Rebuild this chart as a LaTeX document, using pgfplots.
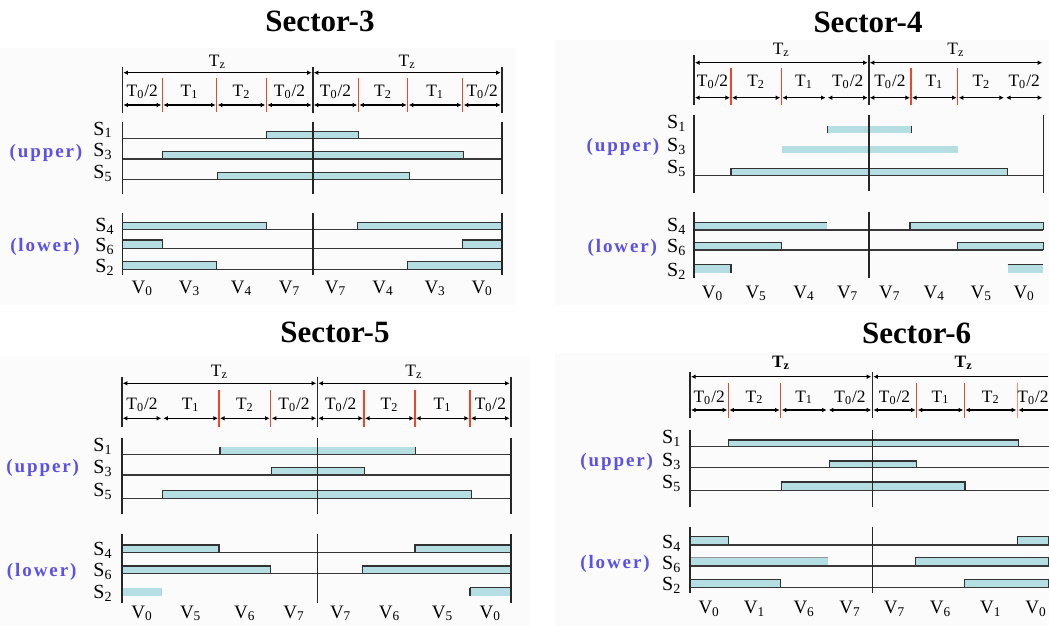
\documentclass[border=0pt]{standalone}
\usepackage{pgfplots}
\pgfplotsset{compat=1.18}
\usetikzlibrary{arrows.meta}
\usepackage{fontspec}
\setmainfont{Liberation Serif}
\newfontfamily\upl[LetterSpace=10]{Liberation Serif}
\definecolor{barc}{RGB}{180,222,226}
\definecolor{bard}{RGB}{50,50,50}
\definecolor{redl}{RGB}{240,70,40}
\definecolor{purp}{RGB}{90,80,235}
\definecolor{bgc}{RGB}{251,251,251}
\newcommand\ttl{\fontsize{15.5}{17}\selectfont\bfseries}
\newcommand\lab{\fontsize{8.7}{9}\selectfont}
\newcommand\vlab{\fontsize{9.5}{10}\selectfont}
\newcommand\slab{\fontsize{10}{11}\selectfont}
\newcommand\ul{\upl\fontsize{9.5}{10}\selectfont\bfseries\color{purp}}
\newcommand\Th{T\textsubscript{0}/2}
\newcommand\Tz{T\textsubscript{z}}
\newcommand\Ta{T\textsubscript{1}}
\newcommand\Tb{T\textsubscript{2}}
\pgfplotsset{
  ln/.style={black!78, line width=0.6pt},
  vl/.style={black!85, line width=0.8pt},
  rl/.style={color=redl, line width=0.75pt},
  bx/.style={fill=barc, draw=bard, line width=0.7pt},
  bn/.style={fill=barc, draw=none},
  ed/.style={draw=bard, line width=0.7pt},
  arr/.style={black, line width=0.6pt, >={Latex[length=2.3pt,width=2.3pt]}, shorten <=0.5pt, shorten >=0.5pt},
}
% horizontal line: [opts]{x1}{x2}{y}
\newcommand\HL[4][]{\addplot[ln,#1] coordinates {(#2,#4) (#3,#4)};}
% vertical line: [opts]{x}{y1}{y2}
\newcommand\VL[4][]{\addplot[vl,#1] coordinates {(#2,#3) (#2,#4)};}
\newcommand\RL[3]{\addplot[rl] coordinates {(#1,#2) (#1,#3)};}
% bar: [style]{x1}{x2}{ytop}{ybase}
\newcommand\BX[5][bx]{\addplot[#1] coordinates {(#2,#5) (#2,#4) (#3,#4) (#3,#5)};}
\newcommand\BN[4]{\addplot[bn] coordinates {(#1,#4) (#1,#3) (#2,#3) (#2,#4)};}
% arrow: [tips]{x1}{x2}{y}
\newcommand\AR[4][<->]{\addplot[arr,#1] coordinates {(#2,#4) (#3,#4)};}
\newcommand\TX[4][]{\node[#1] at (axis cs:#2,#3) {#4};}
\newcommand\SL[3]{\node[font=\slab,anchor=base east,inner sep=0pt] at (axis cs:#1,#2) {S\textsubscript{#3}};}
\newcommand\VV[3]{\node[font=\vlab] at (axis cs:#1,#2) {V\textsubscript{#3}};}
\begin{document}
\begin{tikzpicture}
\begin{axis}[
  width=524.5pt, height=313pt, scale only axis,
  xmin=0, xmax=1049, ymin=0, ymax=626, y dir=reverse,
  axis lines=none, clip=true,
]
% page and panel backgrounds
\addplot[fill=white,draw=none] coordinates {(0,0) (1049,0) (1049,626) (0,626)};
\addplot[fill=bgc,draw=none] coordinates {(0,48) (516,48) (516,305) (0,305)};
\addplot[fill=bgc,draw=none] coordinates {(555,40) (1049,40) (1049,305) (555,305)};
\addplot[fill=bgc,draw=none] coordinates {(0,357) (530,357) (530,626) (0,626)};
\addplot[fill=bgc,draw=none] coordinates {(555,353) (1049,353) (1049,626) (555,626)};

%================ Sector-3 ================
\TX[font=\ttl]{320}{21}{Sector-3}
\TX[font=\lab]{217.5}{62}{\Tz}
\TX[font=\lab]{407.2}{62}{\Tz}
\AR{122.3}{312.7}{72.7}
\AR{312.7}{501.7}{72.7}
\AR{122.3}{162.3}{105} \AR{162.3}{216.7}{105} \AR{216.7}{266.3}{105} \AR{266.3}{312.7}{105}
\AR{312.7}{358.3}{105} \AR{358.3}{407.7}{105} \AR{407.7}{462.7}{105} \AR{462.7}{501.7}{105}
\TX[font=\lab]{142.3}{92}{\Th} \TX[font=\lab]{189.5}{92}{\Ta} \TX[font=\lab]{241.5}{92}{\Tb} \TX[font=\lab]{289.5}{92}{\Th}
\TX[font=\lab]{335.5}{92}{\Th} \TX[font=\lab]{383}{92}{\Tb} \TX[font=\lab]{435.2}{92}{\Ta} \TX[font=\lab]{482.2}{92}{\Th}
\VL{122.3}{67}{113} \VL{312.7}{67}{113} \VL{501.7}{67}{113}
\RL{162.3}{78}{112} \RL{216.7}{78}{112} \RL{266.3}{78}{112}
\RL{358.3}{78}{112} \RL{407.7}{78}{112} \RL{462.7}{78}{112}
% upper
\BX{266.7}{358.3}{131.7}{138.3}
\BX{162.3}{463.3}{151.7}{158.7}
\BX{217.3}{409.3}{172.3}{179.3}
\HL{122.3}{501.7}{138.3}
\HL[line width=0.9pt]{122.3}{501.7}{158.7}
\HL{122.3}{501.7}{179.3}
\VL{122.3}{122}{194} \VL{312.7}{122}{194} \VL{501.7}{122}{194}
\SL{113}{135}{1} \SL{113}{156.7}{3} \SL{113}{178.3}{5}
\TX[font=\ul]{46}{152.7}{(upper)}
% lower
\BX{122.3}{266.3}{222.7}{229.3} \BX{357.3}{501.7}{222.7}{229.3}
\BX{122.3}{162.3}{240}{248.3} \BX{462.7}{501.7}{240}{248.3}
\BX{122.3}{216.7}{261.7}{269.3} \BX{407.7}{501.7}{261.7}{269.3}
\HL{122.3}{501.7}{229.3} \HL{122.3}{501.7}{248.3} \HL{122.3}{501.7}{269.3}
\VL{122.3}{213}{275} \VL{312.7}{213}{275} \VL{501.7}{213}{275}
\SL{115}{231.7}{4} \SL{115}{251.7}{6} \SL{115}{272.7}{2}
\TX[font=\ul]{45}{246.7}{(lower)}
\VV{142.3}{288.3}{0} \VV{189.5}{288.3}{3} \VV{241.5}{288.3}{4} \VV{289.5}{288.3}{7}
\VV{335.5}{288.3}{7} \VV{383}{288.3}{4} \VV{435.2}{288.3}{3} \VV{482.2}{288.3}{0}

%================ Sector-4 ================
\TX[font=\ttl]{868}{22}{Sector-4}
\TX[font=\lab]{781.3}{50}{\Tz}
\TX[font=\lab]{956}{50}{\Tz}
\AR{694}{868.7}{62.7}
\AR{868.7}{1043.3}{62.7}
\AR{694}{731}{97.7} \AR{731}{781.3}{97.7} \AR{781.3}{826.7}{97.7} \AR{826.7}{868.7}{97.7}
\AR{868.7}{911}{97.7} \AR{911}{957.7}{97.7} \AR{957.7}{1005}{97.7} \AR{1005}{1043.3}{97.7}
\TX[font=\lab]{712.5}{81.7}{\Th} \TX[font=\lab]{756.2}{81.7}{\Tb} \TX[font=\lab]{804}{81.7}{\Ta} \TX[font=\lab]{847.7}{81.7}{\Th}
\TX[font=\lab]{889.9}{81.7}{\Th} \TX[font=\lab]{934.4}{81.7}{\Ta} \TX[font=\lab]{981.4}{81.7}{\Tb} \TX[font=\lab]{1024.2}{81.7}{\Th}
\VL{694}{55}{105} \VL{868.7}{55}{105}
\RL{731}{68}{105} \RL{781.3}{68}{105} \RL{911}{68}{105} \RL{957.7}{68}{105}
% upper
\BN{827.3}{911.7}{125.7}{133.3}
\VL[ed]{827.3}{125.7}{133.3} \VL[ed]{911.7}{125.7}{133.3}
\BN{782.3}{958.3}{145.7}{153.3}
\BX{731}{1007.7}{168.3}{175.7}
\HL{694}{1043.3}{175.7}
\VL{694}{115}{193.3} \VL{868.7}{115}{191} \VL{1043.3}{115}{193.3}
\SL{686.7}{128.3}{1} \SL{686.7}{151.7}{3} \SL{686.7}{173.3}{5}
\TX[font=\ul]{623}{146.7}{(upper)}
% lower
\BN{694}{826.7}{222.7}{230} \HL[ed]{694}{826.7}{222.7}
\BX{910}{1043.3}{222.7}{230}
\BX{694}{781.3}{242.7}{250} \BX{957.7}{1043.3}{242.7}{250}
\BN{694}{731}{264.3}{272.7} \HL[ed]{694}{731}{264.3} \VL[ed]{731}{264.3}{272.7}
\BN{1007.7}{1043.3}{264.3}{272.7} \HL[ed]{1007.7}{1043.3}{264.3}
\HL{694}{1043.3}{230} \HL{694}{1043.3}{250}
\VL{694}{211.7}{278.3} \VL{868.7}{211.7}{278.3}
\SL{686.7}{231.7}{4} \SL{686.7}{252.7}{6} \SL{686.7}{276.7}{2}
\TX[font=\ul]{622.3}{248.3}{(lower)}
\VV{712.5}{293.3}{0} \VV{756.2}{293.3}{5} \VV{804}{293.3}{4} \VV{847.7}{293.3}{7}
\VV{889.9}{293.3}{7} \VV{934.4}{293.3}{4} \VV{981.4}{293.3}{5} \VV{1024.2}{293.3}{0}

%================ Sector-5 ================
\TX[font=\ttl]{335}{332.7}{Sector-5}
\TX[font=\lab]{219.5}{371.7}{\Tz}
\TX[font=\lab]{414}{371.7}{\Tz}
\AR{121.7}{317.3}{383.3}
\AR{317.3}{510.7}{383.3}
\AR{121.7}{162.3}{418.3} \AR{162.3}{219}{418.3} \AR{219}{270.7}{418.3} \AR{270.7}{317.3}{418.3}
\AR{317.3}{364}{418.3} \AR{364}{415}{418.3} \AR{415}{470}{418.3} \AR{470}{510.7}{418.3}
\TX[font=\lab]{142}{405}{\Th} \TX[font=\lab]{190.7}{405}{\Ta} \TX[font=\lab]{244.9}{405}{\Tb} \TX[font=\lab]{294}{405}{\Th}
\TX[font=\lab]{340.7}{405}{\Th} \TX[font=\lab]{389.5}{405}{\Tb} \TX[font=\lab]{442.5}{405}{\Ta} \TX[font=\lab]{490.4}{405}{\Th}
\VL{121.7}{376.7}{426.7} \VL{317.3}{376.7}{426.7} \VL{510.7}{376.7}{426.7}
\RL{219}{390}{426.7} \RL{270.7}{390}{426.7} \RL{364}{390}{426.7} \RL{415}{390}{426.7} \RL{470}{390}{426.7}
% upper
\BN{220}{415.7}{446.7}{454.3} \VL[ed]{220}{446.7}{454.3} \VL[ed]{415.7}{446.7}{454.3}
\BX{271.7}{364.3}{467.3}{475}
\BX{162.7}{471.7}{490.7}{498.3}
\HL{121.7}{510.7}{454.3} \HL{121.7}{510.7}{475} \HL{121.7}{510.7}{498.3}
\VL{121.7}{437.7}{514} \VL{317.3}{437.7}{514} \VL{510.7}{437.7}{514}
\SL{113}{451.7}{1} \SL{113}{473.3}{3} \SL{113}{496.7}{5}
\TX[font=\ul]{42.7}{468.3}{(upper)}
% lower
\BX{121.7}{219}{545}{552.3} \BX{415}{510.7}{545}{552.3}
\BX{121.7}{270.7}{566}{573.3} \BX{362.7}{510.7}{566}{573.3}
\BN{121.7}{162.3}{587.7}{596}
\BN{470}{510.7}{587.7}{596} \HL[ed]{470}{510.7}{587.7} \VL[ed]{470}{587.7}{596}
\HL{121.7}{510.7}{552.3} \HL{121.7}{510.7}{573.3}
\VL{121.7}{534}{603.3} \VL{317.3}{534}{603.3} \VL{510.7}{534}{603.3}
\SL{113}{555}{4} \SL{113}{576.7}{6} \SL{113}{598.3}{2}
\TX[font=\ul]{41.7}{571.7}{(lower)}
\VV{142}{613.3}{0} \VV{190.7}{613.3}{5} \VV{244.9}{613.3}{6} \VV{294}{613.3}{7}
\VV{340.7}{613.3}{7} \VV{389.5}{613.3}{6} \VV{442.5}{613.3}{5} \VV{490.4}{613.3}{0}

%================ Sector-6 ================
\TX[font=\ttl]{916.7}{333.3}{Sector-6}
\TX[font=\lab\bfseries]{781}{363.3}{\Tz}
\TX[font=\lab\bfseries]{963.7}{363.3}{\Tz}
\AR{690}{872.3}{376.7}
\AR[<-]{872.3}{1049}{376.7}
\AR{690}{728.3}{410} \AR{728.3}{780.7}{410} \AR{780.7}{827.7}{410} \AR{827.7}{872.3}{410}
\AR{872.3}{916.7}{410} \AR{916.7}{964.3}{410} \AR{964.3}{1017.3}{410} \AR[<-]{1017.3}{1049}{410}
\TX[font=\lab]{709.2}{397.3}{\Th} \TX[font=\lab]{754.5}{397.3}{\Tb} \TX[font=\lab]{804.2}{397.3}{\Ta} \TX[font=\lab]{850}{397.3}{\Th}
\TX[font=\lab]{894.5}{397.3}{\Th} \TX[font=\lab]{940.5}{397.3}{\Ta} \TX[font=\lab]{990.8}{397.3}{\Tb} \TX[font=\lab]{1033}{397.3}{\Th}
\VL{690}{371.7}{418.3} \VL{872.3}{371.7}{418.3}
\RL{728.3}{383.3}{418.3} \RL{780.7}{383.3}{418.3} \RL{916.7}{383.3}{418.3} \RL{964.3}{383.3}{418.3}
\addplot[rl,opacity=0.6] coordinates {(1017.3,383.3) (1017.3,418.3)};
% upper
\BX{728.3}{1018.3}{440}{446.7}
\BX{829.3}{916.7}{461}{467.3}
\BX{781.7}{965}{482}{490.7}
\HL{690}{1049}{446.7} \HL{690}{1049}{467.3} \HL{690}{1049}{490.7}
\VL{690}{430}{506.7} \VL{872.3}{430}{506.7}
\SL{681.7}{443.3}{1} \SL{681.7}{466.7}{3} \SL{681.7}{488.3}{5}
\TX[font=\ul]{616.7}{461.7}{(upper)}
% lower
\BX{690}{728.3}{536.7}{545} \BX{1017.3}{1049}{536.7}{545}
\BN{690}{828.3}{557.7}{566} \HL[draw=bard!50,line width=0.5pt]{690}{828.3}{557.7}
\BX{915.7}{1049}{557.7}{566}
\BX{690}{780.7}{579.3}{587.3} \BX{964.3}{1049}{579.3}{587.3}
\HL{690}{1049}{545} \HL{690}{1049}{566} \HL{690}{1049}{587.3}
\VL{690}{526.7}{593.3} \VL{872.3}{526.7}{593.3}
\SL{681.7}{548.3}{4} \SL{681.7}{569.3}{6} \SL{681.7}{590}{2}
\TX[font=\ul]{615}{564}{(lower)}
\VV{709.2}{609}{0} \VV{754.5}{609}{1} \VV{804.2}{609}{6} \VV{850}{609}{7}
\VV{894.5}{609}{7} \VV{940.5}{609}{6} \VV{990.8}{609}{1} \VV{1036}{609}{0}
\end{axis}
\end{tikzpicture}
\end{document}
